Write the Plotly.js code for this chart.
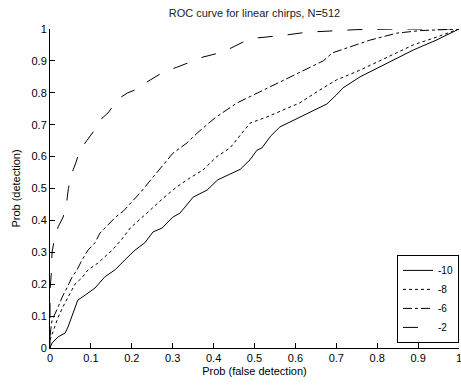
<!DOCTYPE html>
<html>
<head>
<meta charset="utf-8">
<script src="https://cdn.plot.ly/plotly-3.0.1.min.js"></script>
<style>html,body{margin:0;padding:0;background:#fff;}#chart{width:461px;height:388px;}</style>
</head>
<body>
<div id="chart"></div>
<script>
// Series -10 (solid)
const xN10 = [0, 0.005, 0.02, 0.037, 0.044, 0.056, 0.068, 0.086, 0.11, 0.134, 0.159, 0.183, 0.208, 0.232, 0.252, 0.274, 0.3, 0.318, 0.35, 0.384, 0.41, 0.44, 0.465, 0.489, 0.506, 0.518, 0.54, 0.562, 0.611, 0.652, 0.677, 0.70, 0.716, 0.758, 0.824, 0.888, 0.946, 1];
const yN10 = [0, 0.016, 0.035, 0.047, 0.066, 0.11, 0.15, 0.166, 0.188, 0.223, 0.245, 0.276, 0.307, 0.33, 0.364, 0.376, 0.41, 0.423, 0.473, 0.495, 0.527, 0.545, 0.56, 0.59, 0.62, 0.627, 0.665, 0.693, 0.724, 0.748, 0.765, 0.793, 0.815, 0.85, 0.893, 0.934, 0.966, 1];
// Series -8 (dotted)
const xN8 = [0, 0.008, 0.02, 0.032, 0.044, 0.061, 0.078, 0.093, 0.117, 0.152, 0.175, 0.196, 0.237, 0.277, 0.31, 0.342, 0.374, 0.408, 0.44, 0.489, 0.53, 0.57, 0.61, 0.66, 0.70, 0.758, 0.824, 0.888, 0.946, 1];
const yN8 = [0.025, 0.056, 0.097, 0.13, 0.16, 0.2, 0.22, 0.245, 0.266, 0.307, 0.34, 0.376, 0.423, 0.47, 0.505, 0.533, 0.558, 0.6, 0.627, 0.705, 0.724, 0.746, 0.768, 0.809, 0.84, 0.871, 0.912, 0.95, 0.975, 1];
// Series -6 (dash-dot)
const xN6 = [0, 0.005, 0.017, 0.03, 0.042, 0.053, 0.066, 0.078, 0.093, 0.11, 0.122, 0.14, 0.16, 0.18, 0.22, 0.26, 0.30, 0.335, 0.36, 0.404, 0.457, 0.497, 0.555, 0.61, 0.668, 0.69, 0.726, 0.782, 0.848, 0.905, 1];
const yN6 = [0.04, 0.088, 0.12, 0.16, 0.19, 0.22, 0.245, 0.275, 0.307, 0.33, 0.36, 0.385, 0.41, 0.43, 0.486, 0.548, 0.61, 0.643, 0.674, 0.722, 0.768, 0.793, 0.83, 0.865, 0.9, 0.925, 0.94, 0.965, 0.987, 0.995, 1];
// Series -2 (long dash)
const xN2 = [0, 0, 0.003, 0.005, 0.012, 0.02, 0.032, 0.04, 0.045, 0.054, 0.063, 0.073, 0.09, 0.11, 0.127, 0.142, 0.166, 0.19, 0.22, 0.232, 0.277, 0.31, 0.374, 0.423, 0.472, 0.506, 0.57, 0.628, 0.69, 0.75, 0.85, 0.95, 1];
const yN2 = [0, 0.18, 0.23, 0.3, 0.35, 0.38, 0.41, 0.45, 0.5, 0.55, 0.58, 0.62, 0.65, 0.685, 0.72, 0.737, 0.78, 0.8, 0.815, 0.83, 0.865, 0.88, 0.912, 0.928, 0.959, 0.972, 0.98, 0.99, 0.994, 0.998, 1, 1, 1];

const ticks = [0, 0.1, 0.2, 0.3, 0.4, 0.5, 0.6, 0.7, 0.8, 0.9, 1];
const tickText = ['0', '0.1', '0.2', '0.3', '0.4', '0.5', '0.6', '0.7', '0.8', '0.9', '1'];

const lineStyle = (dash) => ({color: '#000', width: 1, dash: dash});
const traces = [
  {x: xN10, y: yN10, name: '-10', mode: 'lines', line: lineStyle('solid')},
  {x: xN8, y: yN8, name: '-8', mode: 'lines', line: lineStyle('dot')},
  {x: xN6, y: yN6, name: '-6', mode: 'lines', line: lineStyle('dashdot')},
  {x: xN2, y: yN2, name: '-2', mode: 'lines', line: lineStyle('longdash')}
];

const font = {family: '"Liberation Sans", Arial, sans-serif', size: 11, color: '#000'};
const axisBase = {
  range: [0, 1], tickvals: ticks, ticktext: tickText,
  ticks: 'inside', ticklen: 5, tickcolor: '#000', tickwidth: 1,
  showline: true, linecolor: '#000', linewidth: 1, mirror: false,
  showgrid: false, zeroline: false, tickfont: font, ticklabeloverflow: 'allow'
};

const layout = {
  width: 461, height: 388,
  margin: {l: 50, r: 2, t: 29, b: 40},
  paper_bgcolor: '#fff', plot_bgcolor: '#fff',
  font: font,
  title: {text: 'ROC curve for linear chirps, N=512', font: {family: font.family, size: 11, color: '#222'}, x: 0.552, xanchor: 'center', y: 0.965, yanchor: 'middle'},
  xaxis: Object.assign({}, axisBase, {title: {text: 'Prob (false detection)', font: font, standoff: 4}}),
  yaxis: Object.assign({}, axisBase, {title: {text: 'Prob (detection)', font: font, standoff: 8}}),
  showlegend: true,
  legend: {x: 1, xanchor: 'right', y: 0.016, yanchor: 'bottom', bgcolor: '#fff', bordercolor: '#000', borderwidth: 1, font: {family: font.family, size: 10, color: '#000'}, tracegroupgap: 0, itemwidth: 30}
};

Plotly.newPlot('chart', traces, layout, {displayModeBar: false, staticPlot: true});
</script>
</body>
</html>
